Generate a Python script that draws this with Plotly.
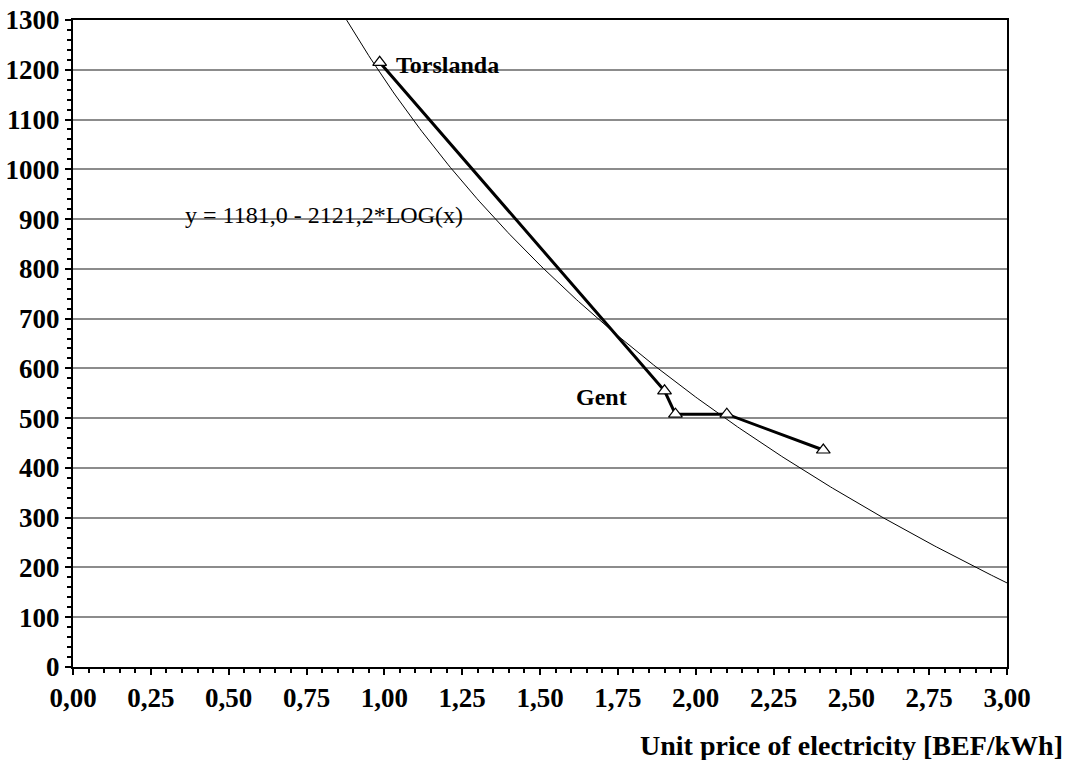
import numpy as np
import plotly.graph_objects as go

# Observed data (unit price BEF/kWh vs value)
price = [0.985, 1.90, 1.935, 2.10, 2.41]
value = [1215, 555, 508, 508, 436]

# Trend line coefficients shown on chart: y = a - b*LOG(x)
fit_a = 1181.0
fit_b = 2121.2
fit_x = np.linspace(0.879, 3.0, 300)
fit_y = fit_a - fit_b * np.log10(fit_x)

x_ticks = [0, 0.25, 0.5, 0.75, 1.0, 1.25, 1.5, 1.75, 2.0, 2.25, 2.5, 2.75, 3.0]
x_ticktext = ["0,00", "0,25", "0,50", "0,75", "1,00", "1,25", "1,50", "1,75",
              "2,00", "2,25", "2,50", "2,75", "3,00"]
y_ticks = list(range(0, 1301, 100))
y_ticktext = [str(v) for v in y_ticks]

serif = "Liberation Serif, Times New Roman, serif"

fig = go.Figure()
fig.add_trace(go.Scatter(x=fit_x, y=fit_y, mode="lines",
                         line=dict(color="black", width=1), showlegend=False,
                         hoverinfo="skip"))
fig.add_trace(go.Scatter(x=price, y=value, mode="lines+markers",
                         line=dict(color="black", width=3),
                         marker=dict(symbol="triangle-up", size=12, color="white",
                                     line=dict(color="black", width=1.2)),
                         showlegend=False))

fig.add_annotation(x=1.03, y=1210, text="<b>Torslanda</b>", showarrow=False,
                   xanchor="left", yanchor="middle",
                   font=dict(family=serif, size=24, color="black"))
fig.add_annotation(x=1.785, y=542, text="<b>Gent</b>", showarrow=False,
                   xanchor="right", yanchor="middle",
                   font=dict(family=serif, size=24, color="black"))
fig.add_annotation(x=0.353, y=908, text="y = 1181,0 - 2121,2*LOG(x)", showarrow=False,
                   xanchor="left", yanchor="middle",
                   font=dict(family=serif, size=24, color="black"))
fig.add_annotation(xref="paper", yref="paper", x=1.062, y=-0.122,
                   text="<b>Unit price of electricity [BEF/kWh]</b>", showarrow=False,
                   xanchor="right", yanchor="middle",
                   font=dict(family=serif, size=28, color="black"))

fig.update_xaxes(range=[0, 3], tickvals=x_ticks, ticktext=x_ticktext,
                 showgrid=False, zeroline=False, automargin=False,
                 showline=True, linecolor="black", linewidth=2, mirror=True,
                 ticks="outside", ticklen=6, tickwidth=2, tickcolor="black",
                 minor=dict(dtick=0.05, ticks="outside", ticklen=4, tickwidth=1.5,
                            tickcolor="black", showgrid=False),
                 tickfont=dict(family=serif, size=27, color="black", weight="bold"))
fig.update_yaxes(range=[0, 1300], tickvals=y_ticks, ticktext=y_ticktext,
                 showgrid=True, gridcolor="#8c8c8c", gridwidth=2, zeroline=False,
                 automargin=False,
                 showline=True, linecolor="black", linewidth=2, mirror=True,
                 ticks="outside", ticklen=6, tickwidth=2, tickcolor="black",
                 minor=dict(dtick=20, ticks="outside", ticklen=4, tickwidth=1.5,
                            tickcolor="black", showgrid=False),
                 tickfont=dict(family=serif, size=27, color="black", weight="bold"))

fig.update_layout(width=1077, height=760,
                  margin=dict(l=73, r=70, t=20, b=93, autoexpand=False),
                  paper_bgcolor="white", plot_bgcolor="white")

# remove the default 8px page margin so the figure fills the window exactly
fig.write_html("out.html", config={"displayModeBar": False},
               post_script="document.body.style.margin='0';document.body.style.overflow='hidden';")
